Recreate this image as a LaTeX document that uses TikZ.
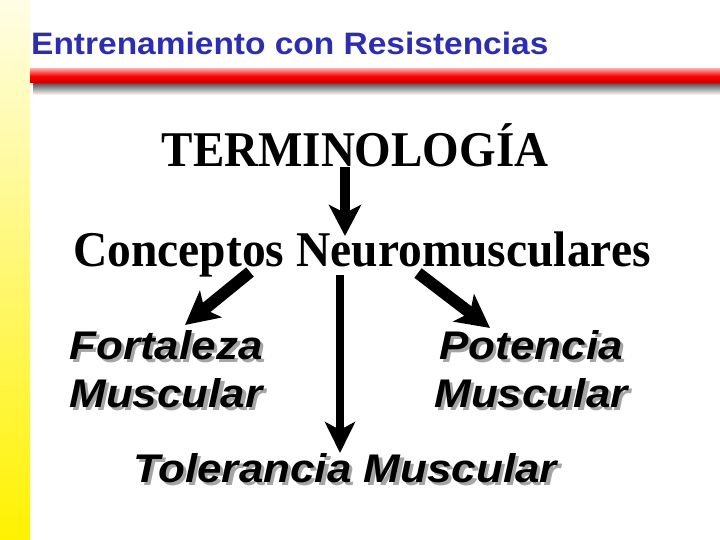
\documentclass[tikz,border=0pt]{standalone}
\usepackage{fontspec}
\setmainfont{Liberation Serif}
\setsansfont{Liberation Sans}
\usepackage{xcolor}
\usepackage{graphicx}
\usetikzlibrary{arrows.meta}

\definecolor{titleblue}{RGB}{45,45,178}
\definecolor{stripyellow}{RGB}{255,242,0}
\definecolor{textshadow}{RGB}{165,165,165}

% stretched text with a grey drop shadow
\newcommand{\wideshadow}[1]{\scalebox{1.1}[1]{\makebox[0pt][l]{\hspace{3pt}\raisebox{-3pt}{\textcolor{textshadow}{#1}}}#1}}

\begin{document}
\begin{tikzpicture}[x=1pt, y=1pt,
  titletext/.style={inner sep=0pt, text=titleblue, font=\fontsize{31}{35}\selectfont\sffamily\bfseries},
  serifhead/.style={inner sep=0pt, font=\fontsize{50}{55}\selectfont\bfseries},
  concept/.style={inner sep=0pt, align=center, font=\fontsize{40}{48}\selectfont\sffamily\bfseries\itshape},
  toparrow/.style={line width=10pt, -{Stealth[length=31pt,width=32pt,inset=8pt]}},
  diagarrow/.style={line width=12pt, -{Stealth[length=33pt,width=34pt,inset=8pt]}},
  longarrow/.style={line width=8pt, -{Stealth[length=31pt,width=30pt,inset=8pt]}}]

\useasboundingbox (0,0) rectangle (720,-540);

% Left strip and header bar
\shade[top color=stripyellow!10, bottom color=stripyellow] (0,0) rectangle (30,-540);
\shade[top color=black!80, bottom color=white] (33,-81) rectangle (720,-95);
\shade[top color=red!40!white, bottom color=red!75!black, middle color=red] (30,-69) rectangle (720,-83);

% Heading
\node[titletext, anchor=base west] (title) at (31,-55) {\scalebox{1.08}[1]{Entrenamiento con Resistencias}};

% Terms
\node[serifhead, anchor=base] (term) at (355,-167) {\scalebox{0.94}[1]{TERMINOLOGÍA}};
\node[serifhead, anchor=base] (conc) at (362,-266) {\scalebox{0.95}[1]{Conceptos Neuromusculares}};
\node[concept, anchor=north] (fort) at (166,-330) {\wideshadow{Fortaleza}\\\wideshadow{Muscular}};
\node[concept, anchor=north] (pot) at (531,-330) {\wideshadow{Potencia}\\\wideshadow{Muscular}};
\node[concept, anchor=base] (tol) at (345,-482) {\wideshadow{Tolerancia Muscular}};

% Arrows
\draw[toparrow] ([xshift=-10pt]term.base) -- ([shift={(-17,30)}]conc.base);
\draw[diagarrow] ([shift={(-112,-6)}]conc.base) -- ([shift={(19,5)}]fort.north);
\draw[diagarrow] ([shift={(56,-7)}]conc.base) -- ([shift={(-41,2)}]pot.north);
\draw[longarrow] ([shift={(-22,-9)}]conc.base) -- ([shift={(-5,29)}]tol.base);

\end{tikzpicture}
\end{document}
